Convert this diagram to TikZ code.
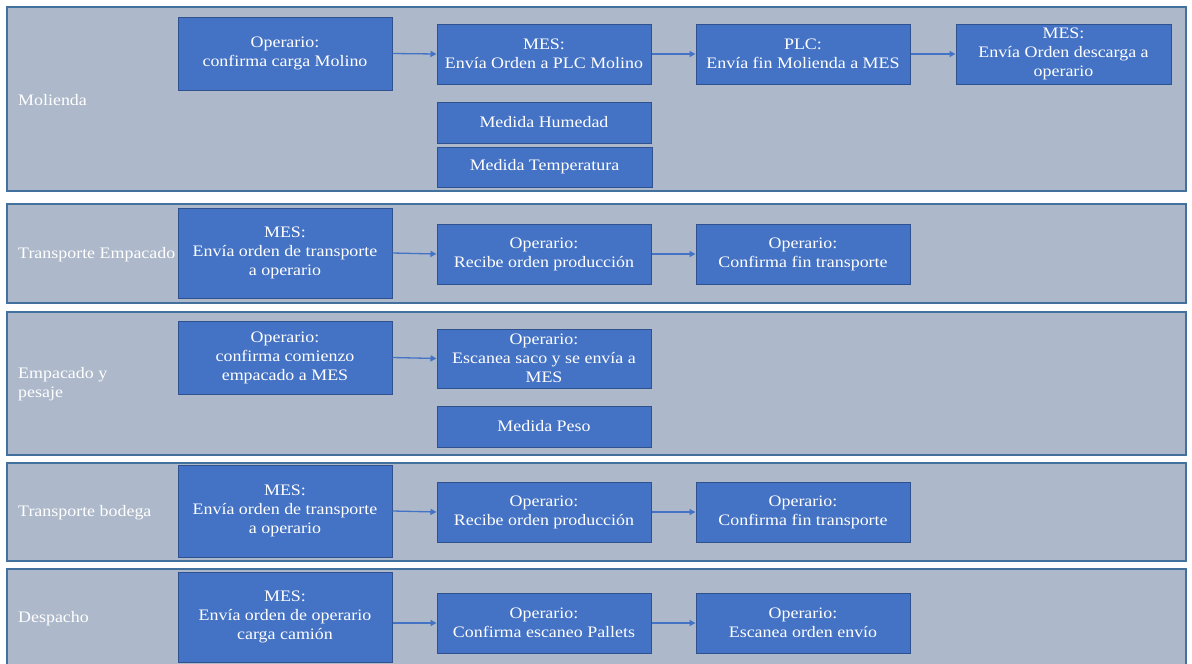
\documentclass[tikz,border=0pt]{standalone}
\usepackage{fontspec}
\setmainfont{Liberation Serif}[FakeStretch=1.12]
\usetikzlibrary{arrows.meta}
\definecolor{lanefill}{HTML}{ADB9CA}
\definecolor{laneline}{HTML}{41719C}
\definecolor{boxfill}{HTML}{4472C4}
\definecolor{boxline}{HTML}{2F528F}
\tikzset{
  lane/.style={draw=laneline, fill=lanefill, line width=1.3pt, minimum width=1179pt, inner sep=0pt},
  lanelabel/.style={anchor=west, text=white, align=left, font=\fontsize{16}{19}\selectfont, inner sep=0pt},
  box/.style={draw=boxline, fill=boxfill, line width=1pt, text=white, align=center, inner sep=0pt, font=\fontsize{16}{19}\selectfont},
  arr/.style={draw=boxfill, line width=1.3pt, -{Triangle[length=6pt,width=6pt]}}
}
\begin{document}
\begin{tikzpicture}[x=1pt,y=-1pt]
\useasboundingbox (0,0) rectangle (1192,664);
\fill[white] (0,0) rectangle (1192,664);
% lanes
\node[lane, minimum height=184pt] (L1) at (596.5,99) {};
\node[lane, minimum height=99pt] (L2) at (596.5,253.5) {};
\node[lane, minimum height=143pt] (L3) at (596.5,383.5) {};
\node[lane, minimum height=98pt] (L4) at (596.5,512) {};
\node[lane, minimum height=97pt] (L5) at (596.5,617.5) {};
\node[lanelabel] (t1) at (18,100) {Molienda};
\node[lanelabel] (t2) at (18,255) {Transporte Empacado};
\node[lanelabel] (t3) at (18,384) {Empacado y\\pesaje};
\node[lanelabel] (t4) at (18,513) {Transporte bodega};
\node[lanelabel] (t5) at (18,619) {Despacho};
% lane 1
\node[box, minimum width=214pt, minimum height=73pt] (a1) at (285,53.5) {Operario:\\confirma carga Molino};
\node[box, minimum width=214pt, minimum height=60pt] (a2) at (544,54) {MES:\\Envía Orden a PLC Molino};
\node[box, minimum width=214pt, minimum height=60pt] (a3) at (803,54) {PLC:\\Envía fin Molienda a MES};
\node[box, minimum width=215pt, minimum height=60pt] (a4) at (1063.5,54) {MES:\\Envía Orden descarga a\\operario};
\node[box, minimum width=214pt, minimum height=41pt] (a5) at (544,122.5) {Medida Humedad};
\node[box, minimum width=215pt, minimum height=40pt] (a6) at (544.5,167) {Medida Temperatura};
% lane 2
\node[box, minimum width=214pt, minimum height=90pt] (b1) at (285,253) {MES:\\Envía orden de transporte\\a operario};
\node[box, minimum width=214pt, minimum height=60pt] (b2) at (544,254) {Operario:\\Recibe orden producción};
\node[box, minimum width=214pt, minimum height=60pt] (b3) at (803,254) {Operario:\\Confirma fin transporte};
% lane 3
\node[box, minimum width=214pt, minimum height=73pt] (c1) at (285,357.5) {Operario:\\confirma comienzo\\empacado a MES};
\node[box, minimum width=214pt, minimum height=59pt] (c2) at (544,358.5) {Operario:\\Escanea saco y se envía a\\MES};
\node[box, minimum width=214pt, minimum height=41pt] (c3) at (544,426.5) {Medida Peso};
% lane 4
\node[box, minimum width=214pt, minimum height=92pt] (d1) at (285,511) {MES:\\Envía orden de transporte\\a operario};
\node[box, minimum width=214pt, minimum height=60pt] (d2) at (544,512) {Operario:\\Recibe orden producción};
\node[box, minimum width=214pt, minimum height=60pt] (d3) at (803,512) {Operario:\\Confirma fin transporte};
% lane 5
\node[box, minimum width=214pt, minimum height=90pt] (e1) at (285,617) {MES:\\Envía orden de operario\\carga camión};
\node[box, minimum width=214pt, minimum height=60pt] (e2) at (544,623) {Operario:\\Confirma escaneo Pallets};
\node[box, minimum width=214pt, minimum height=60pt] (e3) at (803,623) {Operario:\\Escanea orden envío};
% arrows
\draw[arr] (a1.east) -- (a2.west);
\draw[arr] (a2.east) -- (a3.west);
\draw[arr] (a3.east) -- (a4.west);
\draw[arr] (b1.east) -- (b2.west);
\draw[arr] (b2.east) -- (b3.west);
\draw[arr] (c1.east) -- (c2.west);
\draw[arr] (d1.east) -- (d2.west);
\draw[arr] (d2.east) -- (d3.west);
\draw[arr] (e2.west -| e1.east) -- (e2.west);
\draw[arr] (e2.east) -- (e3.west);
\end{tikzpicture}
\end{document}
